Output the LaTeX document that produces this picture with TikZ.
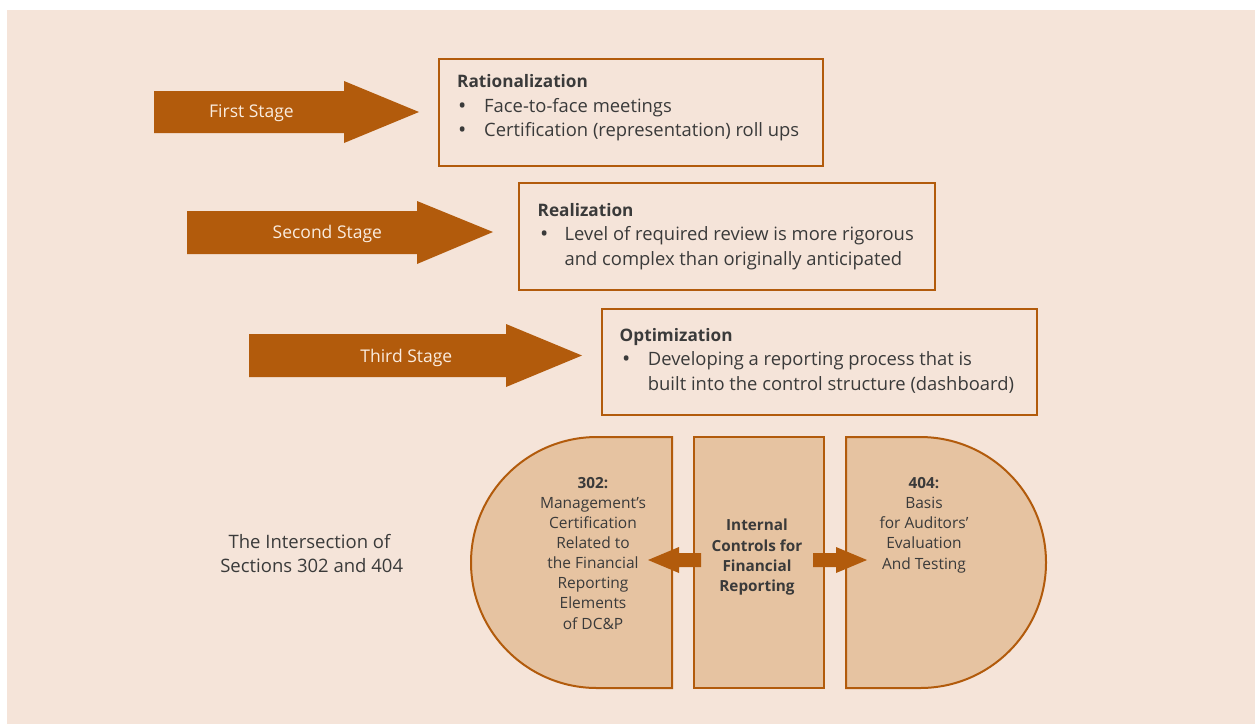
\documentclass[tikz,border=0pt]{standalone}
\usepackage{fontspec}
\setmainfont{Open Sans}
\definecolor{orng}{HTML}{B25B0C}
\definecolor{bgpeach}{HTML}{F5E4D9}
\definecolor{shp}{HTML}{E6C3A1}
\definecolor{txtd}{HTML}{3A3A3A}
\definecolor{cream}{HTML}{FAECDF}
\tikzset{
  stagearrow/.style={fill=orng, draw=none},
  stagetext/.style={anchor=base, inner sep=0pt, text=cream, font=\fontsize{17.5}{20}\selectfont},
  boxframe/.style={draw=orng, line width=2pt, anchor=north west, inner sep=0pt},
  boxtitle/.style={anchor=base west, inner sep=0pt, text=txtd, font=\bfseries\fontsize{17.2}{20}\selectfont},
  boxline/.style={anchor=base west, inner sep=0pt, text=txtd, font=\fontsize{18.4}{20}\selectfont},
  boxbullet/.style={anchor=base west, inner sep=0pt, text=txtd, font=\fontsize{22}{20}\selectfont},
  secshape/.style={draw=orng, fill=shp, line width=2pt},
  sectext/.style={anchor=base, inner sep=0pt, text=txtd, font=\fontsize{15.5}{20}\selectfont},
  sectitle/.style={anchor=base, inner sep=0pt, text=txtd, font=\bfseries\fontsize{15.3}{20}\selectfont},
  blockarrow/.style={fill=orng, draw=none},
  labeltext/.style={anchor=base, inner sep=0pt, text=txtd, font=\fontsize{18.5}{20}\selectfont}
}
\begin{document}
\begin{tikzpicture}[x=1pt,y=-1pt]
% canvas and background
\useasboundingbox (0,0) rectangle (1258,724);
\fill[white] (0,0) rectangle (1258,724);
\fill[bgpeach] (7,10) rectangle (1255,724);

% stage arrows
\fill[stagearrow] (154,91) -- (344,91) -- (344,81) -- (419,112) -- (344,143) -- (344,133) -- (154,133) -- cycle;
\node[stagetext] (s1) at (251.5,117.5) {First Stage};
\fill[stagearrow] (187,211) -- (417,211) -- (417,201) -- (493,232) -- (417,264) -- (417,254) -- (187,254) -- cycle;
\node[stagetext] (s2) at (327.3,238.3) {Second Stage};
\fill[stagearrow] (249,334) -- (506,334) -- (506,324) -- (582,355.5) -- (506,387) -- (506,377) -- (249,377) -- cycle;
\node[stagetext] (s3) at (406.3,362.3) {Third Stage};

% boxes
\node[boxframe, minimum width=384pt, minimum height=107pt] (box1) at (438,58) {};
\node[boxtitle] (b1t) at (457,87.7) {Rationalization};
\node[boxbullet] (b1a) at (458,113) {•};
\node[boxline] (b1b) at (484,112.7) {Face-to-face meetings};
\node[boxbullet] (b1c) at (458,137) {•};
\node[boxline] (b1d) at (484,136.7) {Certification (representation) roll ups};

\node[boxframe, minimum width=416pt, minimum height=107pt] (box2) at (518,182) {};
\node[boxtitle] (b2t) at (537.5,216.7) {Realization};
\node[boxbullet] (b2a) at (540,241) {•};
\node[boxline] (b2b) at (564.4,240.7) {Level of required review is more rigorous};
\node[boxline] (b2c) at (564.4,265) {and complex than originally anticipated};

\node[boxframe, minimum width=435pt, minimum height=106pt] (box3) at (601,308) {};
\node[boxtitle] (b3t) at (619.5,341.7) {Optimization};
\node[boxbullet] (b3a) at (622,366) {•};
\node[boxline] (b3b) at (647.7,365.7) {Developing a reporting process that is};
\node[boxline] (b3c) at (647.7,390) {built into the control structure (dashboard)};

% section shapes
\draw[secshape] (672,437) -- (597,437) arc[start angle=270, end angle=90, x radius=126, y radius=125.5] -- (672,688) -- cycle;
\node[secshape, minimum width=130pt, minimum height=251pt, inner sep=0pt] (icfr) at (759,562.5) {};
\draw[secshape] (846,437) -- (920,437) arc[start angle=270, end angle=450, x radius=126, y radius=125.5] -- (846,688) -- cycle;

% block arrows
\fill[blockarrow] (701,553) -- (679,553) -- (679,547) -- (648,560) -- (679,573) -- (679,567) -- (701,567) -- cycle;
\fill[blockarrow] (813,553) -- (836,553) -- (836,547) -- (867,560) -- (836,573) -- (836,567) -- (813,567) -- cycle;

% section texts
\node[sectitle] (l1) at (593,488.3) {302:};
\foreach \t [count=\i] in {Management’s, Certification, Related to, the Financial, Reporting, Elements, of DC\&P}
  \node[sectext] (l\i x) at (593,488.3+20.1*\i) {\t};

\foreach \t [count=\i from 0] in {Internal, Controls for, Financial, Reporting}
  \node[sectitle] (m\i) at (757,530.7+20.3*\i) {\t};

\node[sectitle] (r1) at (924,488.3) {404:};
\foreach \t [count=\i] in {Basis, for Auditors’, Evaluation, And Testing}
  \node[sectext] (r\i x) at (924,488.3+20.2*\i) {\t};

% left label
\node[labeltext] (lab1) at (309.5,548.3) {The Intersection of};
\node[labeltext] (lab2) at (311.7,572.7) {Sections 302 and 404};
\end{tikzpicture}
\end{document}
